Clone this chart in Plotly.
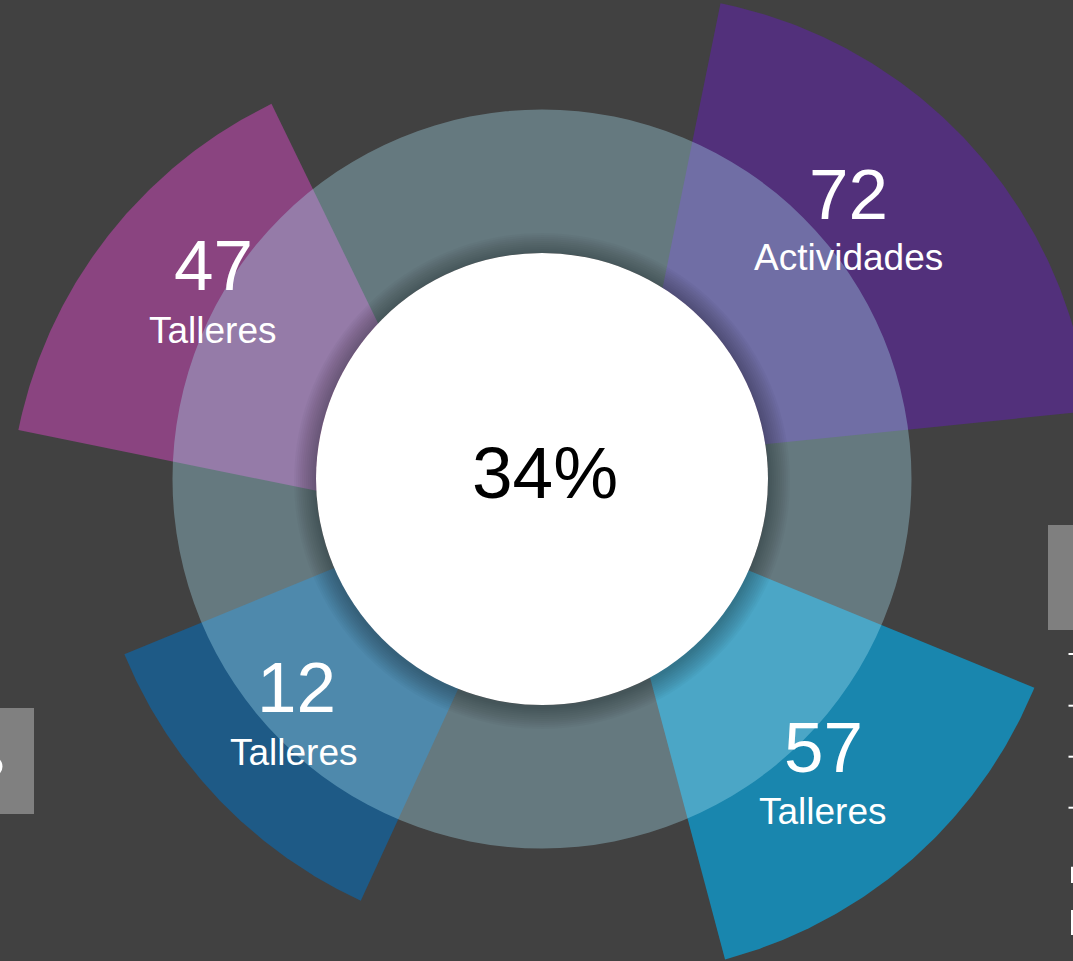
import numpy as np
import plotly.graph_objects as go

# ---------------- data ----------------
values = [72, 47, 12, 57]
labels = ["Actividades", "Talleres", "Talleres", "Talleres"]
center_value = "34%"
ring_share = [100]

# ---------------- layout / style (pixel geometry) ----------------
W, H = 1073, 961
BG = "#414141"
FONT = "Liberation Sans, Arial, sans-serif"
colors = ["#52307B", "#8A4480", "#1E5A86", "#1986AE"]
apex_x = [628, 475, 555.5, 606]
apex_y = [458, 523, 477.3, 512]
radius = [464, 466, 466, 463]
theta_start = [5.8, 115.9, 202.3, 284.9]
theta_end = [78.5, 168.5, 245.3, 337.7]
num_pos = [(848, 194), (213, 265), (296, 687.5), (823, 747)]
lab_pos = [(848, 257), (213, 330), (294, 752), (822.5, 811)]

ring_cx, ring_cy, ring_R, ring_r = 542, 479, 369.5, 226
ring_color = "rgba(170,227,244,0.35)"

fig = go.Figure()

# wedges
for i in range(len(values)):
    th = np.radians(np.linspace(theta_start[i], theta_end[i], 120))
    xs = np.concatenate([[apex_x[i]], apex_x[i] + radius[i] * np.cos(th), [apex_x[i]]])
    ys = np.concatenate([[apex_y[i]], apex_y[i] - radius[i] * np.sin(th), [apex_y[i]]])
    fig.add_trace(go.Scatter(
        x=xs, y=ys, mode="lines", fill="toself", fillcolor=colors[i],
        line=dict(width=0, color=colors[i]), hoverinfo="skip", showlegend=False,
        name=f"{values[i]} {labels[i]}"))

# translucent ring (drawn above the wedges)
fig.add_trace(go.Pie(
    values=ring_share, hole=ring_r / ring_R, sort=False, textinfo="none",
    hoverinfo="skip", showlegend=False,
    marker=dict(colors=[ring_color], line=dict(width=0)),
    domain=dict(x=[(ring_cx - ring_R) / W, (ring_cx + ring_R) / W],
                y=[1 - (ring_cy + ring_R) / H, 1 - (ring_cy - ring_R) / H])))

shapes = []
# soft shadow around white centre
for rr in range(248, 226, -2):
    shapes.append(dict(type="circle", xref="x", yref="y", layer="above",
                       x0=ring_cx - rr, x1=ring_cx + rr, y0=ring_cy + 2 - rr, y1=ring_cy + 2 + rr,
                       fillcolor="rgba(0,0,0,0.028)", line=dict(width=0)))
# white centre
shapes.append(dict(type="circle", xref="x", yref="y", layer="above",
                   x0=ring_cx - ring_r, x1=ring_cx + ring_r, y0=ring_cy - ring_r, y1=ring_cy + ring_r,
                   fillcolor="white", line=dict(width=0)))

# cut-off side decorations
shapes.append(dict(type="rect", xref="x", yref="y", x0=1048, x1=1090, y0=525, y1=630,
                   fillcolor="#7F7F7F", line=dict(width=0), layer="below"))
for yy in [654, 705.7, 756.7, 807.7]:
    shapes.append(dict(type="rect", xref="x", yref="y", x0=1068.5, x1=1090, y0=yy - 1, y1=yy + 1,
                       fillcolor="white", line=dict(width=0)))
for (ya, yb) in [(866.7, 883), (910, 935)]:
    shapes.append(dict(type="rect", xref="x", yref="y", x0=1071, x1=1090, y0=ya, y1=yb,
                       fillcolor="white", line=dict(width=0)))
shapes.append(dict(type="rect", xref="x", yref="y", x0=-10, x1=34, y0=708, y1=814,
                   fillcolor="#808080", line=dict(width=0), layer="below"))
shapes.append(dict(type="circle", xref="x", yref="y", x0=-17, x1=1, y0=757.5, y1=775.5,
                   line=dict(color="white", width=3)))

annotations = []
for i in range(len(values)):
    annotations.append(dict(x=num_pos[i][0], y=num_pos[i][1], xref="x", yref="y",
                            text=str(values[i]), showarrow=False, xanchor="center", yanchor="middle",
                            font=dict(family=FONT, size=71, color="white")))
    annotations.append(dict(x=lab_pos[i][0], y=lab_pos[i][1], xref="x", yref="y",
                            text=labels[i], showarrow=False, xanchor="center", yanchor="middle",
                            font=dict(family=FONT, size=37, color="white")))
annotations.append(dict(x=545, y=472, xref="x", yref="y", text=center_value, showarrow=False,
                        xanchor="center", yanchor="middle",
                        font=dict(family=FONT, size=73, color="black")))

fig.update_layout(
    width=W, height=H, autosize=False,
    margin=dict(l=0, r=0, t=0, b=0, pad=0),
    paper_bgcolor=BG, plot_bgcolor=BG,
    xaxis=dict(range=[0, W], visible=False, fixedrange=True),
    yaxis=dict(range=[H, 0], visible=False, fixedrange=True),
    shapes=shapes, annotations=annotations, showlegend=False,
)

fig.write_html("out.html")
